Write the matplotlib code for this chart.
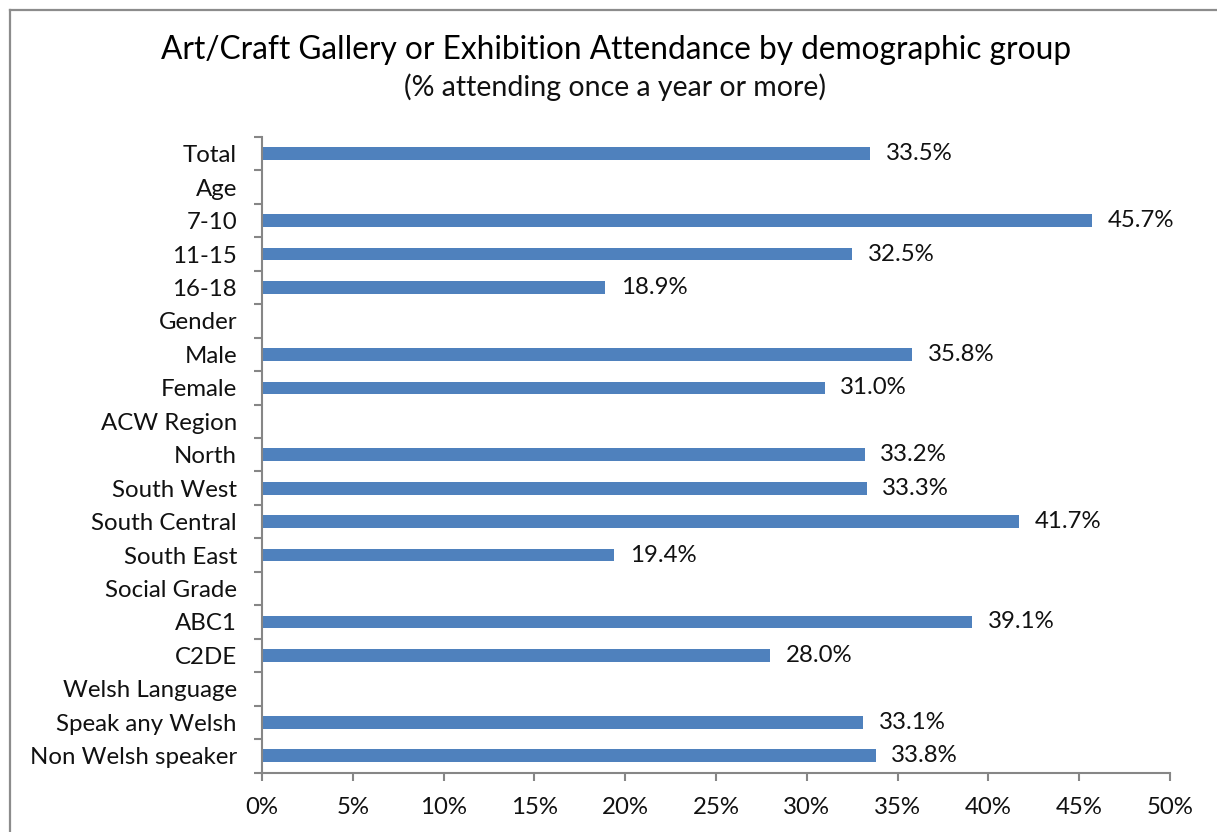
import matplotlib
matplotlib.use("Agg")
import matplotlib.pyplot as plt
from matplotlib.lines import Line2D
import numpy as np

categories = ["Total", "Age", "7-10", "11-15", "16-18", "Gender", "Male", "Female",
              "ACW Region", "North", "South West", "South Central", "South East",
              "Social Grade", "ABC1", "C2DE", "Welsh Language", "Speak any Welsh",
              "Non Welsh speaker"]
values = [33.5, None, 45.7, 32.5, 18.9, None, 35.8, 31.0, None, 33.2, 33.3, 41.7,
          19.4, None, 39.1, 28.0, None, 33.1, 33.8]
x_ticks = [0, 5, 10, 15, 20, 25, 30, 35, 40, 45, 50]

title = "Art/Craft Gallery or Exhibition Attendance by demographic group"
subtitle = "(% attending once a year or more)"

bar_color = "#4F81BD"
axis_color = "#868686"
label_font = "Lato"
fs = 17.3

W, H = 1217, 832
fig = plt.figure(figsize=(W / 100, H / 100), dpi=100)

# outer chart border (top and left edges visible)
fig.add_artist(Line2D([9.5 / W, 9.5 / W], [0, 1 - 9.5 / H], transform=fig.transFigure,
                      color="#8c8c8c", lw=1.6))
fig.add_artist(Line2D([9.5 / W, 1], [1 - 9.5 / H, 1 - 9.5 / H], transform=fig.transFigure,
                      color="#8c8c8c", lw=1.6))

ax = fig.add_axes([262 / W, 1 - 772.5 / H, (1170 - 262) / W, (772.5 - 137) / H])

y = np.arange(len(categories))
for yi, v in zip(y, values):
    if v is None:
        continue
    ax.barh(yi, v, height=0.38, color=bar_color, edgecolor="none")
    ax.text(v + 0.85, yi, f"{v:.1f}%", va="center", ha="left",
            fontsize=fs, family=label_font, color="#111111")

ax.set_xlim(0, 50)
ax.set_ylim(len(categories) - 0.5, -0.5)

for s in ["top", "right"]:
    ax.spines[s].set_visible(False)
for s in ["left", "bottom"]:
    ax.spines[s].set_color(axis_color)
    ax.spines[s].set_linewidth(1.5)

ax.set_xticks(x_ticks)
ax.set_xticklabels([f"{t}%" for t in x_ticks], fontsize=fs, family=label_font,
                   color="#111111")
ax.tick_params(axis="x", direction="out", length=6, width=1.5, color=axis_color, pad=12)

# category boundary ticks, labels at the centres
ax.set_yticks(np.arange(len(categories) + 1) - 0.5)
ax.set_yticklabels([])
ax.set_yticks(y, minor=True)
ax.set_yticklabels(categories, minor=True, fontsize=fs, family=label_font,
                   color="#111111")
ax.tick_params(axis="y", which="major", direction="out", length=6, width=1.5,
               color=axis_color)
ax.tick_params(axis="y", which="minor", length=0, pad=18)

fig.text((160 + 1073) / 2 / W, 1 - 50 / H, title, ha="center", va="center",
         fontsize=22.8, family="Lato", color="#000000")
fig.text((398 + 833) / 2 / W, 1 - 87 / H, subtitle, ha="center", va="center",
         fontsize=20.5, family="Lato", color="#111111")

fig.savefig("out.png", dpi=100, facecolor="white")
